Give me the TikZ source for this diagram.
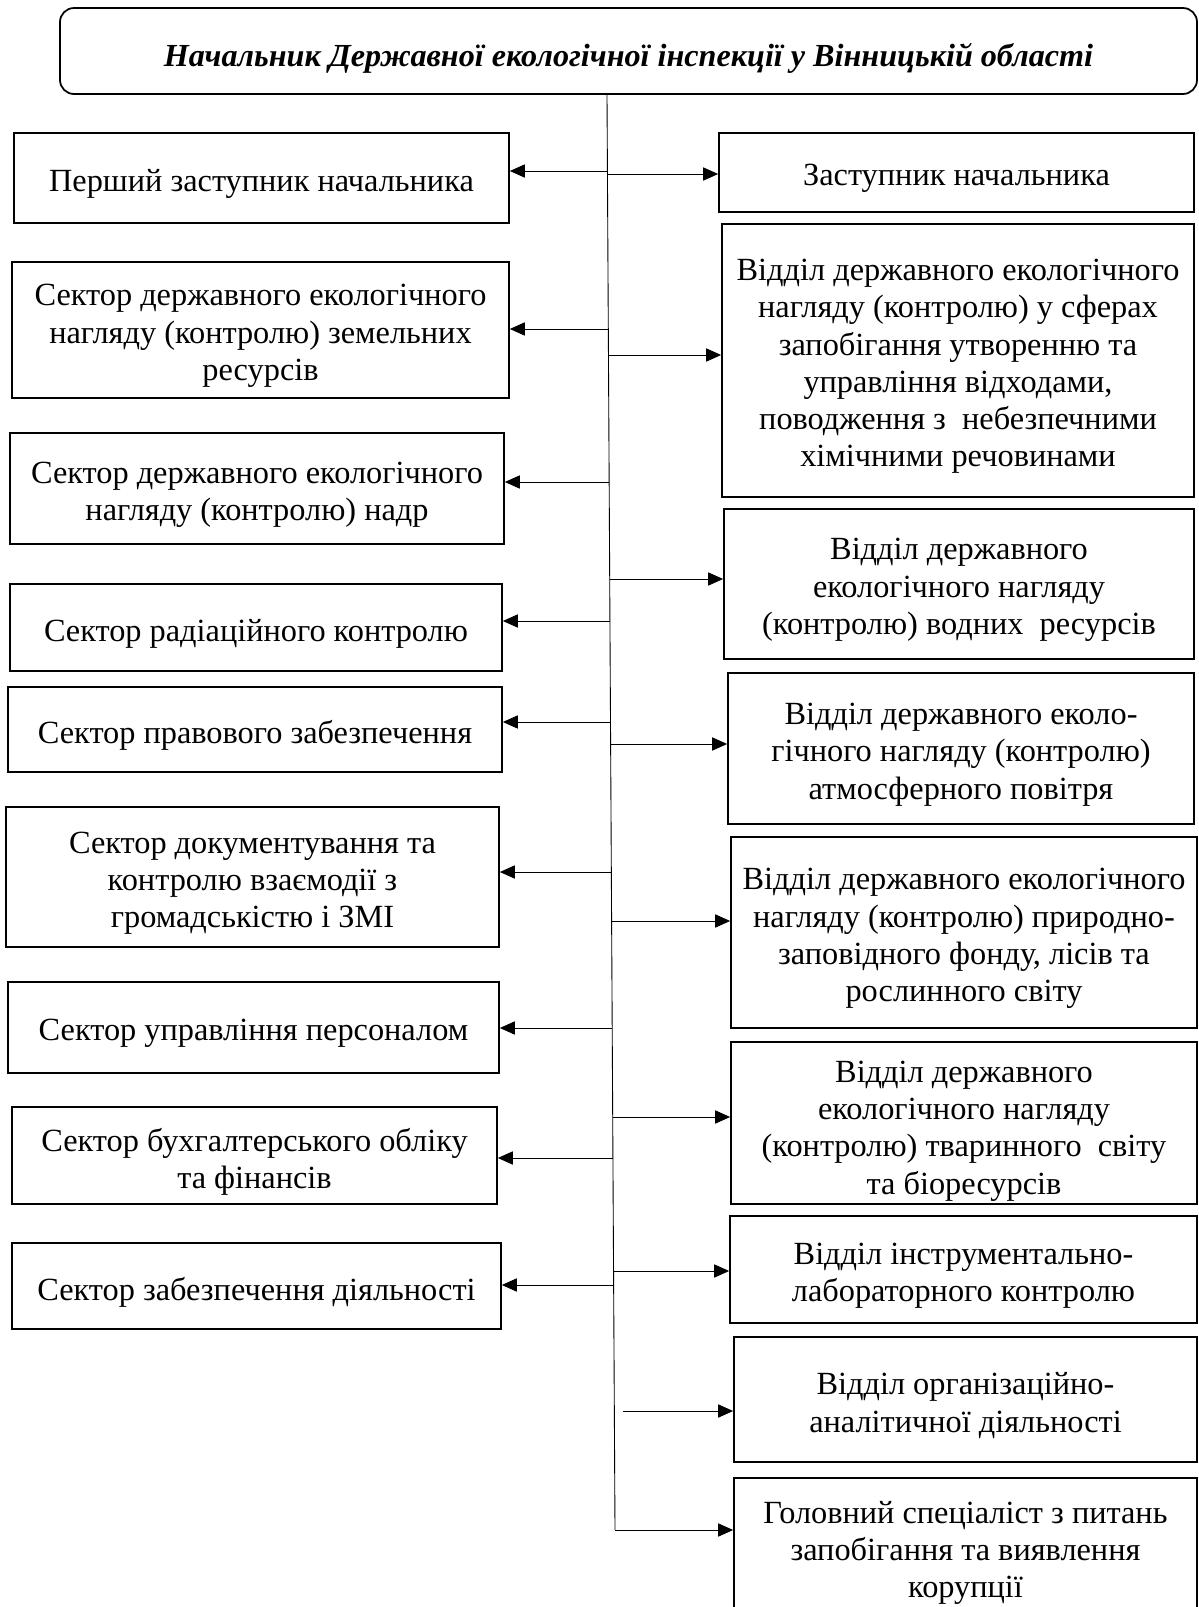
\documentclass[tikz,border=0pt]{standalone}
\usepackage{fontspec}
\setmainfont{Liberation Serif}
\usepackage{tikz}
\usetikzlibrary{arrows.meta,positioning,calc,shapes}

\begin{document}
\begin{tikzpicture}[x=0.02cm,y=-0.02cm,
  box/.style={draw,line width=1pt,inner sep=0pt},
  txt/.style={align=center,inner sep=0pt,yshift=-0.12cm,
    font=\fontsize{18.4}{21.2}\selectfont},
  wh/.style 2 args={minimum width=#1*0.02cm,minimum height=#2*0.02cm},
  arr/.style={line width=0.5pt,-{Triangle[length=8.5pt,width=7.5pt]}}]
\useasboundingbox (0,0) rectangle (1199,1607);

% Head
\node[box,rounded corners=8pt,wh={1137}{86},
  label={[txt,yshift=-0.02cm,font=\fontsize{18.3}{21}\selectfont\bfseries\itshape]center:{Начальник Державної екологічної інспекції у Вінницькій області}}]
  (head) at (628.5,51) {};

% Trunk
\coordinate (tt) at (607,94);
\coordinate (tb) at (615,1530);
\draw[line width=0.5pt] (tt) -- (tb);

% Left column
\node[box,wh={495}{90},label={[txt]center:{Перший заступник начальника}}] (l1) at (261.5,178) {};
\node[box,wh={497}{136},label={[txt]center:{Сектор державного екологічного\\нагляду (контролю) земельних\\ресурсів}}] (l2) at (260.5,330) {};
\node[box,wh={494}{111},label={[txt]center:{Сектор державного екологічного\\нагляду (контролю) надр}}] (l3) at (257,488.5) {};
\node[box,wh={492}{87},label={[txt]center:{Сектор радіаційного контролю}}] (l4) at (256,627.5) {};
\node[box,wh={494}{85},label={[txt]center:{Сектор правового забезпечення}}] (l5) at (255,729.5) {};
\node[box,wh={493}{140},label={[txt]center:{Сектор документування та\\контролю взаємодії з\\громадськістю і ЗМІ}}] (l6) at (252.5,877) {};
\node[box,wh={491}{91},label={[txt]center:{Сектор управління персоналом}}] (l7) at (253.5,1027.5) {};
\node[box,wh={485}{97},label={[txt]center:{Сектор бухгалтерського обліку\\та фінансів}}] (l8) at (254.5,1155.5) {};
\node[box,wh={489}{86},label={[txt]center:{Сектор забезпечення діяльності}}] (l9) at (256.5,1286) {};

% Right column
\node[box,wh={475}{79},label={[txt]center:{Заступник начальника}}] (r1) at (956.5,172.5) {};
\node[box,wh={472}{273},label={[txt]center:{Відділ державного екологічного\\нагляду (контролю) у сферах\\запобігання утворенню та\\управління відходами,\\поводження з\ \ небезпечними\\хімічними речовинами}}] (r2) at (958,360.5) {};
\node[box,wh={470}{150},label={[txt]center:{Відділ державного\\екологічного нагляду\\(контролю) водних\ \ ресурсів}}] (r3) at (959,584) {};
\node[box,wh={466}{151},label={[txt]center:{Відділ державного еколо-\\гічного нагляду (контролю)\\атмосферного повітря}}] (r4) at (961,748.5) {};
\node[box,wh={466}{191},label={[txt]center:{Відділ державного екологічного\\нагляду (контролю) природно-\\заповідного фонду, лісів та\\рослинного світу}}] (r5) at (964,932.5) {};
\node[box,wh={466}{162},label={[txt,yshift=-0.04cm]center:{Відділ державного\\екологічного нагляду\\(контролю) тваринного\ \ світу\\та біоресурсів}}] (r6) at (964,1123) {};
\node[box,wh={467}{107},label={[txt]center:{Відділ інструментально-\\лабораторного контролю}}] (r7) at (963.5,1269.5) {};
\node[box,wh={463}{125},label={[txt]center:{Відділ організаційно-\\аналітичної діяльності}}] (r8) at (965.5,1399.5) {};
\node[box,wh={463}{138},label={[txt]center:{Головний спеціаліст з питань\\запобігання та виявлення\\корупції}}] (r9) at (965.5,1547) {};

% Arrows
\foreach \n/\y in {l1/171,l2/329,l3/482,l4/621,l5/722,l6/872,l7/1028,l8/1158,l9/1285}{
  \coordinate (t\n) at ($(tt)!{(\y-94)/1436}!(tb)$);
  \draw[arr] (t\n) -- (t\n -| \n.east);
}
\foreach \n/\y in {r1/174,r2/355,r3/579,r4/744,r5/921,r6/1117,r7/1271,r9/1530}{
  \coordinate (t\n) at ($(tt)!{(\y-94)/1436}!(tb)$);
  \draw[arr] (t\n) -- (t\n -| \n.west);
}
\coordinate (tr8) at (623,1411);
\draw[arr] (tr8) -- (tr8 -| r8.west);
\end{tikzpicture}
\end{document}
